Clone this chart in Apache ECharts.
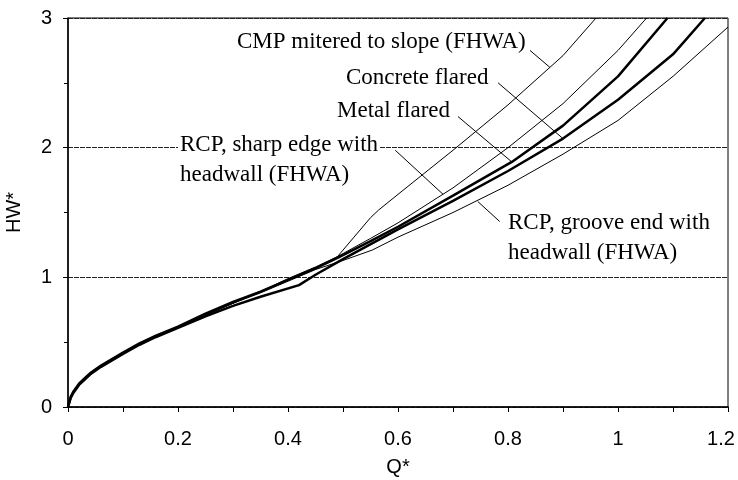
<!DOCTYPE html>
<html>
<head>
<meta charset="utf-8">
<script src="https://cdn.jsdelivr.net/npm/echarts@6/dist/echarts.min.js"></script>
<style>html,body{margin:0;padding:0;background:#fff}#c{width:738px;height:480px}</style>
</head>
<body>
<div id="c"></div>
<script>
// Q* ticks and HW* ticks
const xTickLabels = ['0', '0.2', '0.4', '0.6', '0.8', '1', '1.2'];
const yTickLabels = ['0', '1', '2', '3'];

// Curves as [Q*, HW*] pairs
const cmpMitered = [[0,0],[0.005,0.07],[0.01,0.11],[0.02,0.17],[0.03,0.21],[0.04,0.25],[0.06,0.31],[0.08,0.37],[0.1,0.42],[0.13,0.48],[0.16,0.54],[0.2,0.62],[0.25,0.71],[0.3,0.80],[0.35,0.89],[0.4,0.98],[0.45,1.07],[0.49,1.16],[0.52,1.31],[0.55,1.46],[0.565,1.52],[0.6,1.64],[0.7,1.98],[0.8,2.33],[0.9,2.71],[0.96,3.0]];
const rcpSharp = [[0,0],[0.005,0.07],[0.01,0.11],[0.02,0.17],[0.03,0.21],[0.04,0.25],[0.06,0.31],[0.08,0.37],[0.1,0.42],[0.13,0.48],[0.16,0.54],[0.2,0.62],[0.25,0.71],[0.3,0.80],[0.35,0.89],[0.4,0.99],[0.45,1.08],[0.49,1.16],[0.55,1.30],[0.6,1.42],[0.7,1.69],[0.8,2.00],[0.9,2.34],[1.0,2.75],[1.052,3.0]];
const metalFlared = [[0,0],[0.005,0.08],[0.01,0.12],[0.02,0.18],[0.03,0.22],[0.04,0.26],[0.06,0.32],[0.08,0.37],[0.1,0.42],[0.13,0.49],[0.16,0.55],[0.2,0.62],[0.25,0.72],[0.3,0.81],[0.35,0.89],[0.4,0.98],[0.45,1.07],[0.49,1.15],[0.55,1.28],[0.6,1.39],[0.7,1.63],[0.807,1.89],[0.9,2.17],[1.0,2.55],[1.09,3.0]];
const concreteFlared = [[0,0],[0.005,0.07],[0.01,0.11],[0.02,0.17],[0.03,0.21],[0.04,0.25],[0.06,0.31],[0.08,0.36],[0.1,0.41],[0.13,0.48],[0.16,0.54],[0.2,0.61],[0.25,0.70],[0.3,0.78],[0.35,0.85],[0.42,0.94],[0.45,1.02],[0.5,1.14],[0.6,1.37],[0.7,1.59],[0.8,1.82],[0.9,2.07],[1.0,2.37],[1.1,2.72],[1.158,3.0]];
const rcpGroove = [[0,0],[0.005,0.07],[0.01,0.11],[0.02,0.17],[0.03,0.21],[0.04,0.25],[0.06,0.31],[0.08,0.37],[0.1,0.42],[0.13,0.48],[0.16,0.54],[0.2,0.62],[0.25,0.71],[0.3,0.80],[0.35,0.88],[0.4,0.97],[0.45,1.06],[0.5,1.13],[0.553,1.21],[0.6,1.31],[0.7,1.50],[0.8,1.71],[0.9,1.95],[1.0,2.21],[1.1,2.55],[1.2,2.93]];

// Leader lines for the annotations, [Q*, HW*] ends
const leaderCmp = [[0.84,2.75],[0.876,2.62]];
const leaderConcrete = [[0.782,2.50],[0.9,2.07]];
const leaderMetal = [[0.709,2.24],[0.807,1.89]];
const leaderRcpSharp = [[0.595,1.98],[0.682,1.64]];
const leaderGroove = [[0.745,1.585],[0.785,1.43]];

const chart = echarts.init(document.getElementById('c'), null, {renderer: 'canvas'});

const axisFont = {fontFamily: 'Liberation Sans', fontSize: 20, color: '#000'};
const serif = 'Liberation Serif';
const annFont = 23;

function curve(data, w) {
  return {type: 'line', data: data, showSymbol: false, symbol: 'none', smooth: false,
    lineStyle: {color: '#000', width: w}, z: 3, silent: true, clip: true};
}
function leader(coords) {
  return {type: 'lines', coordinateSystem: 'cartesian2d', data: [{coords: coords}],
    lineStyle: {color: '#000', width: 1, opacity: 1}, z: 4, silent: true};
}
function txt(text, x, y) {
  return {type: 'text', left: x, top: y, z: 10,
    style: {text: text, fontFamily: serif, fontSize: annFont, fill: '#000',
      backgroundColor: '#fff', padding: [0, 2]}};
}

chart.setOption({
  animation: false,
  backgroundColor: '#fff',
  grid: {left: 68, right: 10, top: 18, bottom: 73, containLabel: false, outerBoundsMode: 'none',
    show: true, borderColor: '#000', borderWidth: 1, backgroundColor: 'transparent'},
  xAxis: {
    type: 'value', min: 0, max: 1.2, interval: 0.2,
    name: 'Q*', nameLocation: 'middle', nameGap: 50,
    nameTextStyle: axisFont,
    axisLine: {show: true, lineStyle: {color: '#000', width: 1.5}},
    axisTick: {show: true, length: 5, lineStyle: {color: '#000'}},
    minorTick: {show: true, splitNumber: 2, length: 5, lineStyle: {color: '#000'}},
    splitLine: {show: false},
    axisLabel: {...axisFont, margin: 22, hideOverlap: false,
      rich: {last: {fontFamily: 'Liberation Sans', fontSize: 20, color: '#000', padding: [0, 14, 0, 0]}},
      formatter: function (v) {
        const i = Math.round(v / 0.2);
        if (i === xTickLabels.length - 1) return '{last|' + xTickLabels[i] + '}';
        return xTickLabels[i] !== undefined ? xTickLabels[i] : '';
      }}
  },
  yAxis: {
    type: 'value', min: 0, max: 3, interval: 1,
    name: 'HW*', nameLocation: 'middle', nameGap: 44, nameRotate: 90,
    nameTextStyle: axisFont,
    axisLine: {show: true, lineStyle: {color: '#000', width: 1.5}},
    axisTick: {show: true, length: 5, lineStyle: {color: '#000'}},
    minorTick: {show: true, splitNumber: 2, length: 4, lineStyle: {color: '#000'}},
    splitLine: {show: true, lineStyle: {color: '#222', width: 1, type: [5, 1]}},
    axisLabel: {...axisFont, margin: 16, formatter: function (v) {
      const i = Math.round(v); return yTickLabels[i] !== undefined ? yTickLabels[i] : '';
    }}
  },
  series: [
    curve(cmpMitered, 1),
    curve(rcpSharp, 1),
    curve(metalFlared, 2.5),
    curve(concreteFlared, 2.5),
    curve(rcpGroove, 1),
    leader(leaderCmp),
    leader(leaderConcrete),
    leader(leaderMetal),
    leader(leaderRcpSharp),
    leader(leaderGroove)
  ],
  graphic: [
    txt('CMP mitered to slope (FHWA)', 235, 30),
    txt('Concrete flared', 344, 66),
    txt('Metal flared', 335, 99),
    txt('RCP, sharp edge with', 178, 133),
    {type: 'text', left: 180, top: 163, z: 10, style: {text: 'headwall (FHWA)', fontFamily: serif, fontSize: annFont, fill: '#000'}},
    {type: 'text', left: 508, top: 211, z: 10, style: {text: 'RCP, groove end with', fontFamily: serif, fontSize: annFont, fill: '#000'}},
    {type: 'text', left: 508, top: 241, z: 10, style: {text: 'headwall (FHWA)', fontFamily: serif, fontSize: annFont, fill: '#000'}}
  ]
});
</script>
</body>
</html>
